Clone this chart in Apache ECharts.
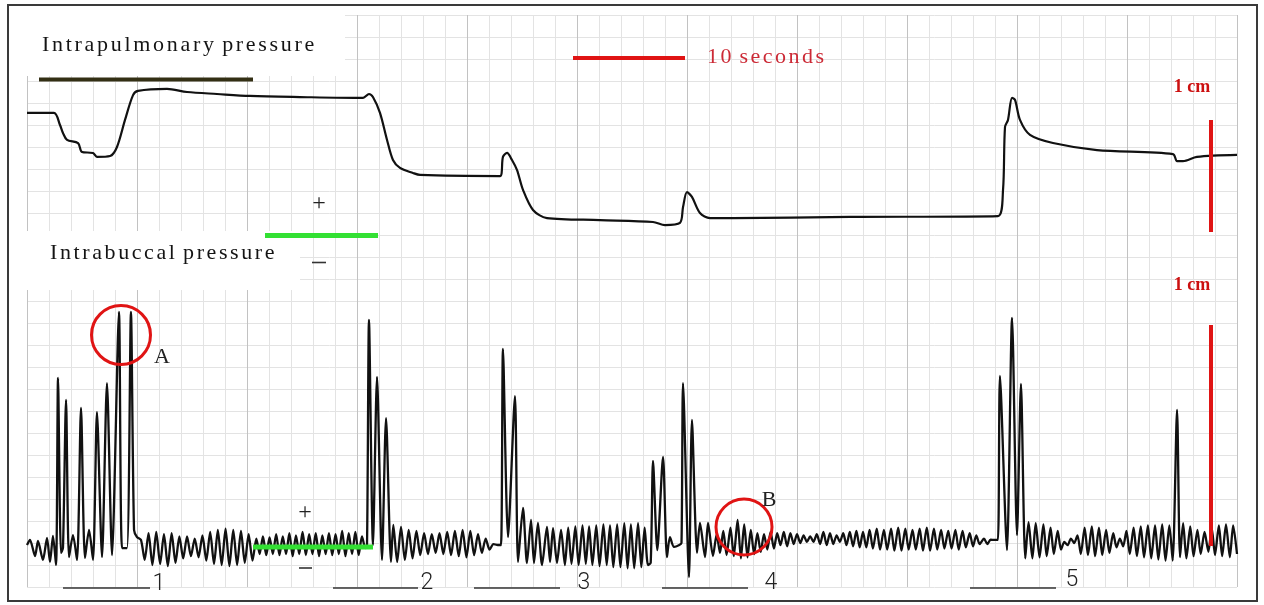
<!DOCTYPE html>
<html><head><meta charset="utf-8">
<script src="https://cdn.jsdelivr.net/npm/echarts@6/dist/echarts.min.js"></script>
<style>html,body{margin:0;padding:0;background:#fff}#c{width:1264px;height:605px}</style>
</head><body><div id="c"></div>
<script>
// Time in seconds (x), pen deflection in mm of chart paper (y)
const pulmonaryTrace = [[0,21.55],[2.45,21.55],[3.0,21.0],[3.27,20.64],[3.64,20.32],[4.64,20.18],[5.0,19.77],[6.0,19.73],[6.36,19.55],[7.55,19.59],[8.18,20.0],[8.91,21.23],[9.64,22.36],[10.09,22.55],[12.73,22.64],[14.55,22.5],[17.27,22.41],[20.27,22.32],[24.82,22.27],[30.55,22.23],[31.09,22.41],[31.45,22.27],[32.09,21.55],[32.73,20.32],[33.27,19.41],[33.91,19.05],[35.09,18.82],[35.73,18.73],[43.0,18.68],[43.27,19.55],[43.64,19.73],[44.09,19.41],[44.55,18.95],[45.09,18.05],[46.0,17.14],[47.27,16.77],[52.09,16.68],[56.91,16.59],[58.0,16.45],[59.36,16.55],[59.64,17.27],[60.0,17.95],[60.45,17.73],[61.18,17.0],[62.09,16.77],[64.18,16.77],[74.82,16.82],[88.27,16.86],[88.73,18.05],[88.91,20.91],[89.18,21.23],[89.55,22.23],[89.82,22.14],[90.27,21.23],[91.18,20.55],[93.27,20.18],[97.27,19.86],[104.18,19.68],[104.55,19.36],[105.09,19.36],[106.36,19.55],[110.0,19.64]];

const buccalPre = [[0,1.91],[0.27,2.14],[0.73,1.41],[1.0,2.09],[1.45,1.23],[1.82,2.23],[2.09,1.14],[2.36,2.32],[2.64,1.0]];
const buccalBurst1 = [[2.82,9.50],[3.09,1.55],[3.27,1.77],[3.55,8.50],[3.82,1.36],[4.18,2.36],[4.55,1.23],[4.91,8.14],[5.27,1.32],[5.64,2.59],[6.0,1.23],[6.36,7.95],[6.82,1.36],[7.27,9.27],[7.73,1.45],[8.36,12.50],[8.64,1.77],[9.09,1.77],[9.45,12.50],[9.73,2.59],[10.0,2.27],[10.36,2.14]];
const buccalRest1 = [[10.7,1.23],[11.05,2.45],[11.4,1.0],[11.75,2.5],[12.1,1.05],[12.45,2.4],[12.8,0.95],[13.15,2.45],[13.5,1.1],[13.85,2.3],[14.2,1.3],[14.55,2.3],[14.9,1.4],[15.25,2.2],[15.6,1.35],[15.95,2.35],[16.3,1.2],[16.65,2.5],[17.0,1.05],[17.35,2.6],[17.7,1.0],[18.05,2.65],[18.4,0.95],[18.75,2.6],[19.1,1.0],[19.45,2.55],[19.8,1.1],[20.15,2.4],[20.5,1.2],[20.85,2.2],[21.15,1.5],[21.45,2.3],[21.75,1.45],[22.05,2.25],[22.35,1.5],[22.65,2.4],[22.95,1.45],[23.25,2.3],[23.55,1.5],[23.85,2.45],[24.15,1.4],[24.45,2.35],[24.75,1.5],[25.05,2.5],[25.35,1.45],[25.65,2.4],[25.95,1.5],[26.25,2.45],[26.55,1.4],[26.85,2.35],[27.15,1.5],[27.45,2.45],[27.75,1.45],[28.05,2.4],[28.35,1.5],[28.65,2.55],[28.95,1.4],[29.25,2.45],[29.55,1.5],[29.85,2.5],[30.15,1.45],[30.45,2.3],[30.75,1.77]];
const buccalBurst2 = [[30.91,1.91],[31.09,12.14],[31.45,1.91],[31.82,9.55],[32.27,1.23],[32.64,7.68],[33.09,1.14]];
const buccalRest2 = [[33.3,2.82],[33.65,1.14],[34.0,2.73],[34.35,1.23],[34.7,2.6],[35.05,1.3],[35.4,2.55],[35.75,1.45],[36.1,2.45],[36.45,1.5],[36.8,2.4],[37.15,1.55],[37.5,2.45],[37.85,1.5],[38.2,2.5],[38.55,1.45],[38.9,2.55],[39.25,1.4],[39.6,2.6],[39.95,1.35],[40.3,2.55],[40.65,1.45],[41.0,2.4],[41.35,1.55],[41.7,2.2],[42.05,1.7],[42.4,1.95],[42.8,1.91]];
const buccalBurst3 = [[43.09,1.91],[43.27,10.82],[43.73,2.27],[44.36,8.68],[44.64,1.14]];
const buccalRest3 = [[45.09,3.59],[45.45,1.09],[45.82,3.05],[46.09,1.09],[46.45,2.91],[46.82,1.0],[47.27,2.73],[47.55,1.14],[47.82,2.68],[48.18,1.1],[48.55,2.59],[48.9,1.0],[49.2,2.7],[49.5,1.05],[49.85,2.75],[50.15,1.0],[50.5,2.8],[50.8,1.05],[51.1,2.75],[51.4,1.0],[51.75,2.8],[52.05,0.95],[52.4,2.85],[52.7,1.0],[53.0,2.8],[53.3,0.9],[53.65,2.85],[53.95,0.9],[54.3,2.9],[54.6,0.85],[54.9,2.85],[55.2,0.85],[55.55,2.9],[55.85,0.9],[56.15,2.7],[56.45,1.0],[56.7,1.1]];
const buccalBurst4 = [[56.91,5.73],[57.3,1.68],[57.82,5.91],[58.18,1.36],[58.45,2.27],[58.82,1.82],[59.3,1.91],[59.5,2.0],[59.64,9.27],[60.18,0.45],[60.45,7.59],[60.91,1.55]];
const buccalRest4 = [[61.18,2.91],[61.64,1.36],[61.91,2.91],[62.36,1.41],[62.7,2.4],[63.0,1.55],[63.3,2.55],[63.6,1.45],[63.95,2.7],[64.25,1.4],[64.6,3.05],[64.9,1.3],[65.2,2.85],[65.5,1.35],[65.8,2.6],[66.1,1.5],[66.4,2.45],[66.7,1.6],[67.0,2.4],[67.3,1.7],[67.6,2.5],[67.9,1.75],[68.2,2.45],[68.5,1.9],[68.8,2.5],[69.1,1.85],[69.4,2.45],[69.7,1.95],[70.0,2.4],[70.3,2.0],[70.6,2.35],[70.9,2.05],[71.2,2.3],[71.5,2.05],[71.8,2.4],[72.1,1.95],[72.4,2.5],[72.7,1.9],[73.0,2.45],[73.3,1.95],[73.6,2.35],[73.9,2.05],[74.2,2.45],[74.5,1.9],[74.8,2.5],[75.1,1.85],[75.4,2.55],[75.7,1.8],[76.0,2.5],[76.3,1.8],[76.6,2.6],[76.9,1.75],[77.25,2.65],[77.55,1.7],[77.9,2.6],[78.2,1.7],[78.55,2.65],[78.85,1.65],[79.2,2.7],[79.5,1.65],[79.85,2.65],[80.15,1.7],[80.5,2.6],[80.8,1.7],[81.15,2.65],[81.45,1.65],[81.8,2.7],[82.1,1.65],[82.45,2.65],[82.75,1.7],[83.1,2.6],[83.4,1.75],[83.75,2.55],[84.05,1.75],[84.4,2.6],[84.7,1.7],[85.05,2.55],[85.35,1.8],[85.7,2.45],[86.0,1.85],[86.3,2.35],[86.6,1.95],[87.0,2.2],[87.3,1.95],[87.6,2.15],[88.0,2.14],[88.27,2.14]];
const buccalBurst5 = [[88.45,9.59],[89.09,1.68],[89.55,12.23],[90.0,2.36],[90.36,9.23],[90.75,1.3]];
const buccalRest5 = [[91.05,2.95],[91.4,1.3],[91.7,2.9],[92.05,1.35],[92.4,2.85],[92.7,1.4],[93.05,2.7],[93.35,1.5],[93.7,2.55],[94.0,1.7],[94.3,2.05],[94.6,1.9],[94.9,2.2],[95.2,2.0],[95.5,2.35],[95.8,1.5],[96.15,2.7],[96.45,1.45],[96.8,2.75],[97.1,1.4],[97.45,2.7],[97.75,1.45],[98.1,2.6],[98.4,1.55],[98.75,2.45],[99.05,1.8],[99.35,2.2],[99.65,1.85],[99.95,2.55],[100.25,1.5],[100.6,2.7],[100.9,1.4],[101.25,2.75],[101.55,1.35],[101.9,2.8],[102.2,1.3],[102.55,2.8],[102.85,1.25],[103.2,2.85],[103.5,1.2],[103.85,2.8],[104.15,1.2]];
const buccalTail = [[104.55,8.05],[104.82,1.36],[105.1,2.9],[105.4,1.3],[105.75,2.75],[106.05,1.4],[106.4,2.6],[106.7,1.5],[107.05,2.5],[107.4,1.6],[107.7,2.7],[108.0,1.45],[108.35,2.8],[108.65,1.4],[109.0,2.85],[109.35,1.35],[109.65,2.8],[110.0,1.5]];

const buccalTrace = [].concat(buccalPre, buccalBurst1, buccalRest1, buccalBurst2, buccalRest2, buccalBurst3, buccalRest3, buccalBurst4, buccalRest4, buccalBurst5, buccalRest5, buccalTail);

const chart = echarts.init(document.getElementById('c'), null, {renderer: 'canvas'});
const serif = '"Liberation Serif", "Times New Roman", serif';

function spacedText(x, y, str, size, color, gap) {
  const rich = {
    c: {fontFamily: serif, fontSize: size, fill: color, color: color, padding: [0, gap, 0, 0]},
    w: {fontFamily: serif, fontSize: size, fill: color, color: color}
  };
  const txt = str.split('').map(ch => ch === ' ' ? '{w|\u00a0}' : '{c|' + ch + '}').join('');
  return {type: 'text', x: x, y: y, z: 30, style: {text: txt, rich: rich, fontFamily: serif, fontSize: size, fill: color,
    textAlign: 'left', textVerticalAlign: 'middle', align: 'left', verticalAlign: 'middle'}};
}
function plainText(x, y, str, font, color, align) {
  return {type: 'text', x: x, y: y, z: 30, style: {text: str, font: font, fill: color,
    textAlign: align || 'center', textVerticalAlign: 'middle', align: align || 'center', verticalAlign: 'middle'}};
}
function seg(x1, y1, x2, y2, color, w) {
  return {type: 'line', z: 25, shape: {x1: x1, y1: y1, x2: x2, y2: y2}, style: {stroke: color, lineWidth: w}};
}
function ring(cx, cy, r, color) {
  return {type: 'circle', z: 26, shape: {cx: cx, cy: cy, r: r}, style: {fill: 'none', stroke: color, lineWidth: 3}};
}

const red = '#e01414';
const green = '#33e033';
const numFont = '300 23px Roboto, "Liberation Sans", sans-serif';

chart.setOption({
  animation: false,
  backgroundColor: '#ffffff',
  grid: {left: 27, top: 15, width: 1210, height: 572, show: false},
  xAxis: {
    type: 'value', min: 0, max: 110, interval: 10,
    axisLine: {show: false}, axisTick: {show: false}, axisLabel: {show: false},
    splitLine: {show: true, lineStyle: {color: '#c2c2c2', width: 1}},
    minorTick: {show: false, splitNumber: 5},
    minorSplitLine: {show: true, lineStyle: {color: '#e3e3e3', width: 1}}
  },
  yAxis: {
    type: 'value', min: 0, max: 26, interval: 1,
    axisLine: {show: false}, axisTick: {show: false}, axisLabel: {show: false},
    splitLine: {show: true, lineStyle: {color: '#e3e3e3', width: 1}}
  },
  series: [
    {name: 'Intrapulmonary pressure', type: 'line', data: pulmonaryTrace, showSymbol: false, smooth: 0.3, clip: false,
      lineStyle: {color: '#111111', width: 2.2}, z: 5},
    {name: 'Intrabuccal pressure', type: 'line', data: buccalTrace, showSymbol: false, smooth: 0.25, clip: false,
      lineStyle: {color: '#111111', width: 2.3}, z: 5}
  ],
  graphic: [
    {type: 'rect', z: 1, shape: {x: 10, y: 7, width: 335, height: 69}, style: {fill: '#ffffff'}},
    {type: 'rect', z: 1, shape: {x: 10, y: 231, width: 290, height: 59}, style: {fill: '#ffffff'}},
    {type: 'rect', z: 40, shape: {x: 8, y: 5, width: 1249, height: 596}, style: {fill: 'none', stroke: '#3a3a3a', lineWidth: 2}},
    spacedText(42, 45, 'Intrapulmonary pressure', 22, '#141414', 2.7),
    seg(39, 79.5, 253, 79.5, '#332f14', 4),
    spacedText(50, 253, 'Intrabuccal pressure', 22, '#141414', 2.6),
    seg(573, 58, 685, 58, red, 4),
    spacedText(707, 57, '10 seconds', 22, '#cc2a36', 2.5),
    plainText(1192, 87, '1 cm', 'bold 18px ' + serif, '#cc1010'),
    plainText(1192, 285, '1 cm', 'bold 18px ' + serif, '#cc1010'),
    seg(1211, 120, 1211, 232, red, 4),
    seg(1211, 325, 1211, 546, red, 4),
    seg(265, 235.5, 378, 235.5, green, 5),
    plainText(319, 204, '+', '24px ' + serif, '#222'),
    seg(312, 262.5, 326, 262.5, '#333', 1.6),
    seg(253, 547, 373, 547, green, 5),
    plainText(305, 513, '+', '24px ' + serif, '#222'),
    seg(299, 568, 312, 568, '#333', 1.6),
    ring(121, 335, 29.5, red),
    plainText(162, 357, 'A', '22px ' + serif, '#222'),
    ring(744, 527, 28, red),
    plainText(769, 500, 'B', '22px ' + serif, '#222'),
    seg(63, 588, 150, 588, '#333', 1.6), plainText(159, 584, '1', numFont, '#222'),
    seg(333, 588, 418, 588, '#333', 1.6), plainText(427, 583, '2', numFont, '#222'),
    seg(474, 588, 560, 588, '#333', 1.6), plainText(584, 583, '3', numFont, '#222'),
    seg(662, 588, 748, 588, '#333', 1.6), plainText(771, 583, '4', numFont, '#222'),
    seg(970, 588, 1056, 588, '#333', 1.6), plainText(1072, 580, '5', numFont, '#222')
  ]
});
</script></body></html>
